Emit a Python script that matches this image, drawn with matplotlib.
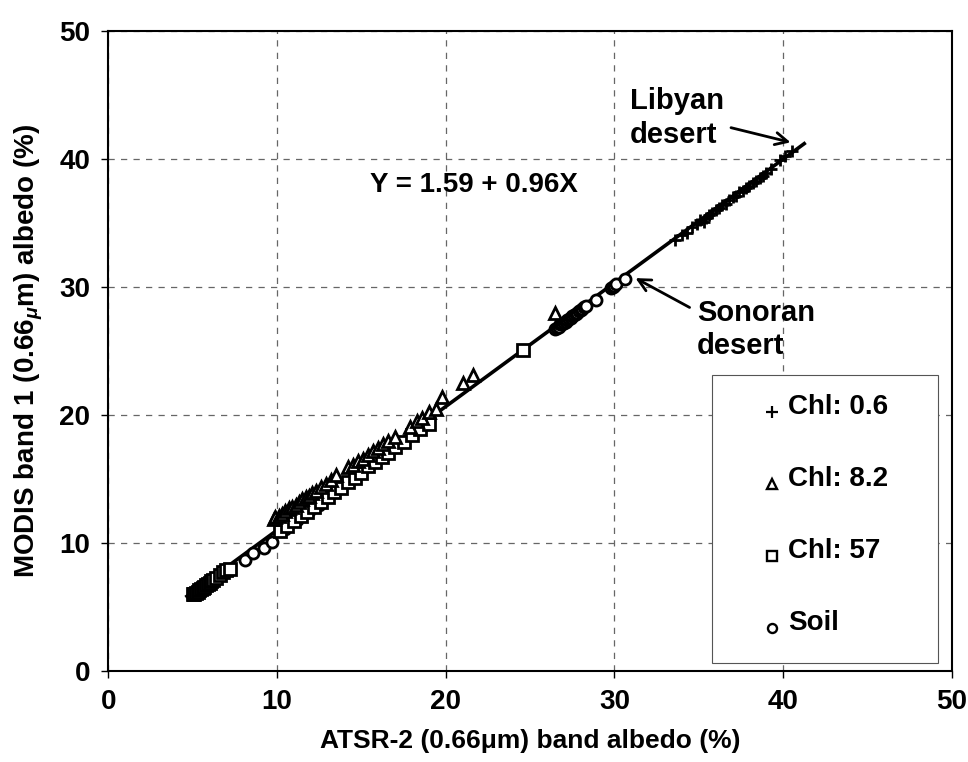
import numpy as np
import matplotlib.pyplot as plt
from matplotlib.patches import Rectangle

plt.rcParams['font.family'] = ['Liberation Sans', 'DejaVu Sans']
plt.rcParams['font.weight'] = 'bold'
plt.rcParams['mathtext.fontset'] = 'custom'
plt.rcParams['mathtext.rm'] = 'Liberation Sans:bold'
plt.rcParams['mathtext.it'] = 'Liberation Sans:italic:bold'

# Chl: 0.6 (plus)
chl06_x = [33.6, 34.0, 34.3, 34.6, 34.9, 35.1, 35.3, 35.4, 35.6, 35.8, 36.0, 36.2, 36.4, 36.6, 36.8,
           37.0, 37.2, 37.4, 37.6, 37.8, 38.0, 38.2, 38.4, 38.6, 38.8, 39.0, 39.3, 39.8, 40.1, 40.5]
chl06_y = [33.7, 34.1, 34.2, 34.7, 34.9, 35.2, 35.1, 35.4, 35.6, 35.8, 36.0, 36.2, 36.4, 36.5, 36.8,
           37.0, 37.1, 37.4, 37.5, 37.7, 37.9, 38.1, 38.3, 38.5, 38.7, 38.9, 39.2, 39.9, 40.2, 40.6]

# Chl: 8.2 (triangles)
chl82_x = [9.8, 9.9, 10.1, 10.3, 10.5, 10.7, 10.9, 11.1, 11.3, 11.5, 11.7, 11.9, 12.1, 12.3, 12.6,
           12.9, 13.2, 13.5, 14.2, 14.5, 14.8, 15.1, 15.4, 15.7, 16.0, 16.3, 16.6, 17.0, 17.9, 18.3,
           18.6, 19.0, 19.4, 19.8, 21.0, 21.6, 26.5]
chl82_y = [11.9, 12.0, 12.1, 12.3, 12.5, 12.7, 12.8, 13.0, 13.2, 13.4, 13.6, 13.7, 13.9, 14.1, 14.4,
           14.6, 14.9, 15.3, 15.9, 16.1, 16.4, 16.6, 16.9, 17.2, 17.4, 17.7, 18.0, 18.3, 19.1, 19.5,
           19.8, 20.2, 20.5, 21.4, 22.5, 23.1, 28.0]

# Chl: 57 (squares)
chl57_x = [5.0, 5.1, 5.2, 5.3, 5.4, 5.5, 5.6, 5.7, 5.8, 5.9, 6.0, 6.1, 6.2, 6.4, 6.6, 6.8, 7.0, 7.2,
           10.2, 10.6, 11.0, 11.4, 11.8, 12.2, 12.6, 13.0, 13.4, 13.8, 14.2, 14.6, 15.0, 15.4,
           15.8, 16.2, 16.6, 17.0, 17.5, 18.0, 18.5, 19.0, 24.6]
chl57_y = [6.0, 6.0, 6.1, 6.2, 6.3, 6.4, 6.5, 6.6, 6.7, 6.8, 6.9, 7.0, 7.1, 7.3, 7.5, 7.7, 7.9, 8.0,
           10.9, 11.3, 11.7, 12.1, 12.4, 12.8, 13.2, 13.6, 14.0, 14.3, 14.8, 15.1, 15.5, 16.0,
           16.3, 16.7, 17.0, 17.5, 17.9, 18.4, 18.9, 19.3, 25.1]

# Soil (circles)
soil_x = [8.1, 8.6, 9.2, 9.7, 10.5, 11.2, 11.9, 12.5,
          26.5, 26.6, 26.7, 26.8, 26.9, 27.0, 27.1, 27.2, 27.3, 27.4, 27.5, 27.6, 27.7, 27.8,
          27.9, 28.0, 28.1, 28.2, 28.3, 28.9, 29.8, 29.9, 30.0, 30.1, 30.6]
soil_y = [8.7, 9.2, 9.6, 10.1, 11.1, 11.8, 12.5, 13.0,
          26.7, 26.8, 26.9, 27.1, 27.1, 27.2, 27.3, 27.4, 27.5, 27.6, 27.7, 27.8, 27.9, 28.0,
          28.1, 28.2, 28.3, 28.4, 28.5, 29.0, 29.9, 30.0, 30.1, 30.2, 30.6]

# regression line as drawn
fit_x = [4.66, 41.25]
fit_y = [5.84, 41.2]

series = [(soil_x, soil_y, 'o', 'Soil'),
          (chl57_x, chl57_y, 's', 'Chl: 57'),
          (chl82_x, chl82_y, '^', 'Chl: 8.2'),
          (chl06_x, chl06_y, '+', 'Chl: 0.6')]

fig = plt.figure(figsize=(9.68, 7.62), dpi=100)
ax = fig.add_axes([0.1119, 0.1194, 0.8714, 0.8399])

ax.plot(fit_x, fit_y, color='black', lw=2.6, zorder=3)
for xs, ys, m, lab in series:
    if m == '+':
        ax.plot(xs, ys, ls='none', marker=m, ms=9, mew=2, color='black', zorder=4)
    else:
        ax.plot(xs, ys, ls='none', marker=m, ms=8, mew=2, mfc='white', mec='black', zorder=4)

ax.set_xlim(0, 50)
ax.set_ylim(0, 50)
ax.set_xticks(np.arange(0, 51, 10))
ax.set_yticks(np.arange(0, 51, 10))
ax.grid(True, ls=(0, (5, 5)), color='#666666', lw=0.9)
ax.tick_params(direction='out', length=5, width=1, labelsize=20, pad=8)
for sp in ax.spines.values():
    sp.set_linewidth(1.5)

ax.set_xlabel('ATSR-2 (0.66\u03bcm) band albedo (%)', fontsize=19, fontweight='bold', labelpad=10)
ax.set_ylabel(r'MODIS band 1 (0.66$_{\mu}$m) albedo (%)', fontsize=20, fontweight='bold', labelpad=10)

ax.text(15.5, 38.0, 'Y = 1.59 + 0.96X', fontsize=20, fontweight='bold', va='center')
ax.text(30.9, 43.2, 'Libyan\ndesert', fontsize=21, fontweight='bold', va='center', linespacing=1.25)
ax.text(34.9, 26.7, 'Sonoran\ndesert', fontsize=21, fontweight='bold', va='center', linespacing=1.25)
ax.annotate('', xy=(40.6, 41.25), xytext=(36.75, 42.5),
            arrowprops=dict(arrowstyle='->', lw=2, color='black', mutation_scale=22))
ax.annotate('', xy=(31.1, 30.8), xytext=(34.6, 28.3),
            arrowprops=dict(arrowstyle='->', lw=2, color='black', mutation_scale=22))

# legend box
ax.add_patch(Rectangle((0.7157, 0.0125), 0.2679, 0.45, transform=ax.transAxes,
                       facecolor='white', edgecolor='#555555', lw=0.8, zorder=5))
for i, (xs, ys, m, lab) in enumerate(series[::-1]):
    yy = 0.4125 - i * 0.1125
    if m == '+':
        ax.plot([0.7868], [yy - 0.008], transform=ax.transAxes, ls='none', marker=m, ms=8,
                mew=1.6, color='black', zorder=6)
    else:
        ax.plot([0.7868], [yy - 0.008], transform=ax.transAxes, ls='none', marker=m, ms=6.5,
                mew=1.7, mfc='white', mec='black', zorder=6)
    ax.text(0.8058, yy, lab, transform=ax.transAxes, fontsize=20, fontweight='bold',
            va='center', zorder=6)

fig.savefig('out.png', dpi=100)
